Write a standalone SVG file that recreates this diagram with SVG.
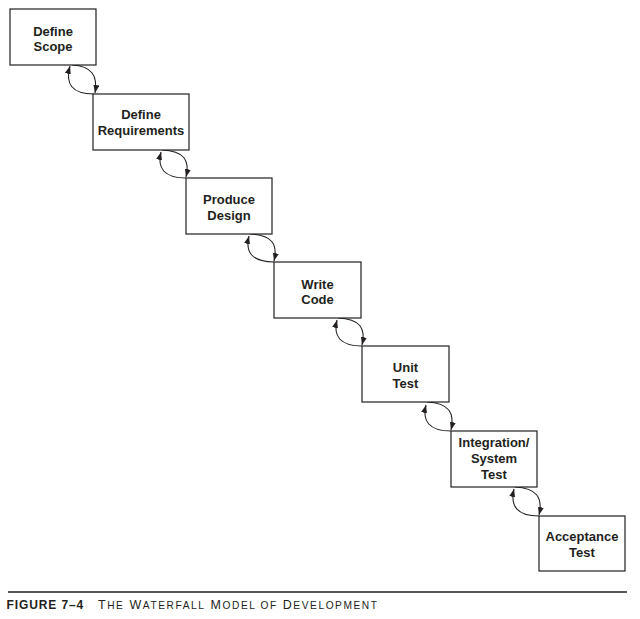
<svg xmlns="http://www.w3.org/2000/svg" width="640" height="619" viewBox="0 0 640 619">
<defs>
<style>
.box{fill:#fff;stroke:#231f20;stroke-width:1.2}
.lbl{font-family:"Liberation Sans",Arial,sans-serif;font-weight:bold;font-size:13px;fill:#231f20;text-anchor:middle}
.con{fill:none;stroke:#231f20;stroke-width:1.1}
.cap{font-family:"Liberation Sans",Arial,sans-serif;fill:#231f20}
</style>
<marker id="ah" viewBox="0 0 8 6" refX="8" refY="3" markerWidth="8" markerHeight="6" markerUnits="userSpaceOnUse" orient="auto">
<path d="M0,0 L8,3 L0,6 z" fill="#231f20"/>
</marker>
</defs>
<rect width="640" height="619" fill="#fff"/>
<g id="connectors">
<g transform="translate(94,94)">
<path class="con" d="M0,0 C-22,0 -29,-10 -24,-28" marker-end="url(#ah)"/>
<path class="con" d="M-22,-29 C-2,-28 4,-18 1,-1" marker-end="url(#ah)"/>
</g>
<g transform="translate(186,178)">
<path class="con" d="M0,0 C-22,0 -29,-10 -25,-26" marker-end="url(#ah)"/>
<path class="con" d="M-24,-28 C-2,-27 4,-18 0,-1" marker-end="url(#ah)"/>
</g>
<g transform="translate(274,262)">
<path class="con" d="M0,0 C-22,0 -29,-10 -25,-26" marker-end="url(#ah)"/>
<path class="con" d="M-24,-28 C-2,-27 4,-18 0,-1" marker-end="url(#ah)"/>
</g>
<g transform="translate(362,346)">
<path class="con" d="M0,0 C-22,0 -29,-10 -25,-26" marker-end="url(#ah)"/>
<path class="con" d="M-24,-28 C-2,-27 4,-18 0,-1" marker-end="url(#ah)"/>
</g>
<g transform="translate(451,431)">
<path class="con" d="M0,0 C-22,0 -29,-10 -25,-26" marker-end="url(#ah)"/>
<path class="con" d="M-24,-29 C-2,-28 4,-18 0,-1" marker-end="url(#ah)"/>
</g>
<g transform="translate(539,516)">
<path class="con" d="M0,0 C-22,0 -29,-10 -25,-27" marker-end="url(#ah)"/>
<path class="con" d="M-24,-29 C-2,-28 4,-18 0,-1" marker-end="url(#ah)"/>
</g>
</g>
<g id="define-scope">
<rect class="box" x="10" y="9" width="86" height="56"/>
<text class="lbl" x="53" y="36">Define</text>
<text class="lbl" x="53" y="51">Scope</text>
</g>
<g id="define-requirements">
<rect class="box" x="93" y="94" width="96" height="56"/>
<text class="lbl" x="141" y="118.5">Define</text>
<text class="lbl" x="141" y="135">Requirements</text>
</g>
<g id="produce-design">
<rect class="box" x="186" y="178" width="86" height="56"/>
<text class="lbl" x="229" y="204">Produce</text>
<text class="lbl" x="229" y="219.5">Design</text>
</g>
<g id="write-code">
<rect class="box" x="274" y="262" width="87" height="56"/>
<text class="lbl" x="317.5" y="289">Write</text>
<text class="lbl" x="317.5" y="303.5">Code</text>
</g>
<g id="unit-test">
<rect class="box" x="362" y="346" width="87" height="56"/>
<text class="lbl" x="405.5" y="372">Unit</text>
<text class="lbl" x="405.5" y="387.5">Test</text>
</g>
<g id="integration-system-test">
<rect class="box" x="451" y="431" width="86" height="56"/>
<text class="lbl" x="494" y="447">Integration/</text>
<text class="lbl" x="494" y="463">System</text>
<text class="lbl" x="494" y="479">Test</text>
</g>
<g id="acceptance-test">
<rect class="box" x="539" y="516" width="86" height="55"/>
<text class="lbl" x="582" y="541">Acceptance</text>
<text class="lbl" x="582" y="557">Test</text>
</g>
<g id="caption">
<line x1="8" y1="592" x2="627" y2="592" stroke="#231f20" stroke-width="1.3"/>
<text class="cap" x="6.5" y="608.5" font-size="12" font-weight="bold" letter-spacing="0.9">FIGURE 7–4</text>
<text class="cap" x="98" y="608.5" font-size="12.5" textLength="279" lengthAdjust="spacing">T<tspan font-size="10.2">HE</tspan> W<tspan font-size="10.2">ATERFALL</tspan> M<tspan font-size="10.2">ODEL OF</tspan> D<tspan font-size="10.2">EVELOPMENT</tspan></text>
</g>
</svg>
